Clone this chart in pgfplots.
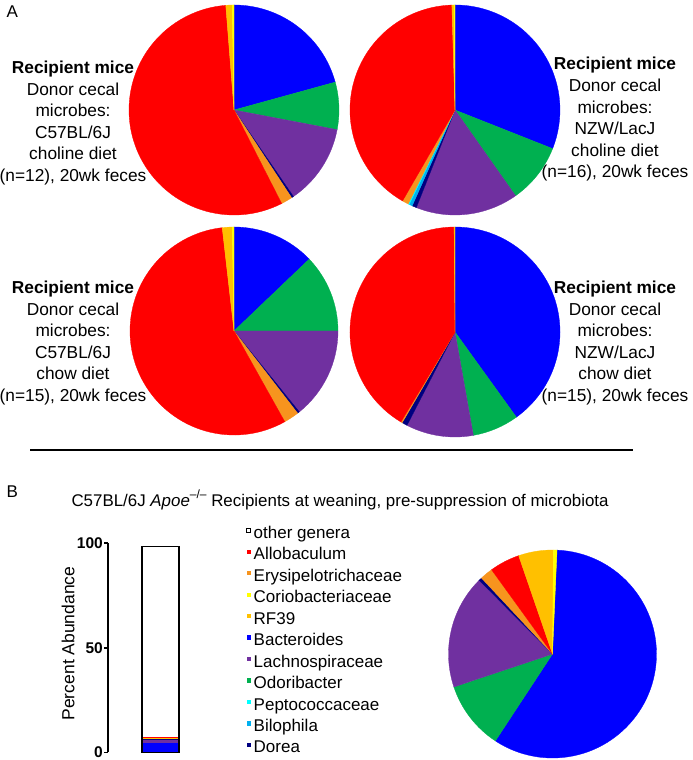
\documentclass[border=0pt]{standalone}
\usepackage{pgfplots}
\pgfplotsset{compat=1.18}
\usepackage{fontspec}
\setmainfont{Liberation Sans}

\definecolor{cAllo}{RGB}{255,0,0}
\definecolor{cEry}{RGB}{247,148,30}
\definecolor{cCorio}{RGB}{255,255,0}
\definecolor{cRF}{RGB}{255,192,0}
\definecolor{cBact}{RGB}{0,0,255}
\definecolor{cLach}{RGB}{112,48,160}
\definecolor{cOdo}{RGB}{0,176,80}
\definecolor{cPept}{RGB}{0,255,255}
\definecolor{cBilo}{RGB}{0,176,240}
\definecolor{cDorea}{RGB}{0,0,128}

% pie: centre x, centre y (canvas units = pt), radius, start offset (deg, clockwise from 12 o'clock), {percent/colour,...} clockwise
\newcommand{\piechart}[5]{%
  \pgfplotsextra{%
    \xdef\piecum{#4}%
    \foreach \v/\c in {#5} {%
      \pgfmathsetmacro\pa{90-\piecum}%
      \pgfmathsetmacro\pb{90-\piecum-3.6*\v}%
      \filldraw[fill=\c, draw=\c, line width=0.3pt] (axis cs:#1,#2) -- ++(\pa:#3pt) arc[start angle=\pa, end angle=\pb, radius=#3pt] -- cycle;
      \pgfmathsetmacro\pn{\piecum+3.6*\v}%
      \xdef\piecum{\pn}%
    }%
  }%
}

\begin{document}
\begin{tikzpicture}
\path[use as bounding box] (0,0) rectangle (693pt,760pt);

% ---------- canvas axis: pies, panel texts ----------
\begin{axis}[at={(0pt,0pt)}, anchor=south west, scale only axis,
  width=693pt, height=760pt, xmin=0, xmax=693, ymin=0, ymax=760,
  enlargelimits=false, hide axis, clip=false]
  % Pie 1: C57BL/6J choline
  \piechart{234}{650}{105}{0}{20.72/cBact, 7.28/cOdo, 12.42/cLach, 0.33/cDorea, 1.75/cEry, 56.25/cAllo, 0.97/cRF, 0.28/cCorio}
  % Pie 2: NZW/LacJ choline
  \piechart{455}{650}{105}{0}{31.0/cBact, 9.22/cOdo, 15.78/cLach, 0.69/cDorea, 0.5/cBilo, 0.17/cPept, 0.97/cEry, 41.19/cAllo, 0.33/cRF, 0.15/cCorio}
  % Pie 3: C57BL/6J chow
  \piechart{234}{429}{104}{0}{12.86/cBact, 12.14/cOdo, 14.19/cLach, 0.33/cDorea, 2.36/cEry, 56.31/cAllo, 1.53/cRF, 0.28/cCorio}
  % Pie 4: NZW/LacJ chow
  \piechart{455}{428}{105}{0}{40.06/cBact, 7.14/cOdo, 10.36/cLach, 0.83/cDorea, 0.22/cEry, 41.25/cAllo, 0.14/cRF}
  % Pie 5: recipients at weaning
  \piechart{552.5}{106}{104}{2.5}{58.56/cBact, 10.61/cOdo, 17.67/cLach, 0.5/cDorea, 2.0/cEry, 4.69/cAllo, 5.42/cRF, 0.55/cCorio}

  \node[anchor=base west, font=\fontsize{17}{17}\selectfont] at (axis cs:3,742) {A};
  \node[anchor=base west, font=\fontsize{17}{17}\selectfont] at (axis cs:3,262) {B};

  \node[align=center, font=\fontsize{17.3}{21.6}\selectfont, anchor=center] at (axis cs:73,637)
    {\textbf{Recipient mice}\\Donor cecal\\microbes:\\C57BL/6J\\choline diet\\(n=12), 20wk feces};
  \node[align=center, font=\fontsize{17.3}{21.6}\selectfont, anchor=center] at (axis cs:615,640.5)
    {\textbf{Recipient mice}\\Donor cecal\\microbes:\\NZW/LacJ\\choline diet\\(n=16), 20wk feces};
  \node[align=center, font=\fontsize{17.3}{21.6}\selectfont, anchor=center] at (axis cs:73,417)
    {\textbf{Recipient mice}\\Donor cecal\\microbes:\\C57BL/6J\\chow diet\\(n=15), 20wk feces};
  \node[align=center, font=\fontsize{17.3}{21.6}\selectfont, anchor=center] at (axis cs:615,417)
    {\textbf{Recipient mice}\\Donor cecal\\microbes:\\NZW/LacJ\\chow diet\\(n=15), 20wk feces};

  \draw[line width=1.3pt] (axis cs:30,310) -- (axis cs:633,310);

  \node[anchor=base west, font=\fontsize{16.9}{19}\selectfont] at (axis cs:68,253.5)
    {C57BL/6J \textit{Apoe}\raisebox{0.45em}{\fontsize{12}{12}\selectfont –/–} Recipients at weaning, pre-suppression of microbiota};
\end{axis}

% ---------- stacked bar ----------
\begin{axis}[at={(108pt,7.5pt)}, anchor=south west, scale only axis,
  width=80pt, height=209.5pt, xmin=0, xmax=80, ymin=0, ymax=100,
  enlargelimits=false, ybar stacked, bar width=37pt,
  axis x line=none, axis y line*=left, xtick=\empty,
  ytick={0,50,100}, yticklabels={0,50,100},
  yticklabel style={font=\fontsize{15.5}{15.5}\selectfont\bfseries, inner sep=1pt},
  tick align=outside, major tick length=4pt,
  axis line style={line width=1.8pt, black},
  tick style={line width=1.8pt, black},
  ylabel={Percent Abundance},
  every axis y label/.style={at={(axis description cs:-0.5,0.52)}, rotate=90, anchor=center, font=\fontsize{17.5}{17.5}\selectfont},
  legend image code/.code={\fill[#1, draw=none] (0pt,0.22em) rectangle (0.42em,0.64em);},
  legend cell align=left,
  legend style={at={(axis description cs:1.725,1.076)}, anchor=north west,
    draw=none, fill=none, font=\fontsize{17}{17}\selectfont,
    row sep=6.97pt, column sep=3pt, inner sep=0pt,
    nodes={inner sep=0pt, text height=11pt, text depth=3.5pt}},
  clip=false]
  \addplot[fill=cBact, draw=none, forget plot] coordinates {(52.5,4.3)};
  \addplot[fill=cLach, draw=none, forget plot] coordinates {(52.5,1.5)};
  \addplot[fill=cOdo, draw=none, forget plot] coordinates {(52.5,0.4)};
  \addplot[fill=cDorea, draw=none, forget plot] coordinates {(52.5,0.05)};
  \addplot[fill=cEry, draw=none, forget plot] coordinates {(52.5,0.2)};
  \addplot[fill=cRF, draw=none, forget plot] coordinates {(52.5,0.4)};
  \addplot[fill=cCorio, draw=none, forget plot] coordinates {(52.5,0.05)};
  \addplot[fill=cAllo, draw=none, forget plot] coordinates {(52.5,0.6)};
  \addplot[fill=white, draw=none, forget plot] coordinates {(52.5,90.8)};

  \addlegendimage{legend image code/.code={\draw[black, fill=white, line width=0.6pt] (0pt,0.22em) rectangle (0.38em,0.6em);}}
  \addlegendentry{other genera}
  \addlegendimage{fill=cAllo}
  \addlegendentry{Allobaculum}
  \addlegendimage{fill=cEry}
  \addlegendentry{Erysipelotrichaceae}
  \addlegendimage{fill=cCorio}
  \addlegendentry{Coriobacteriaceae}
  \addlegendimage{fill=cRF}
  \addlegendentry{RF39}
  \addlegendimage{fill=cBact}
  \addlegendentry{Bacteroides}
  \addlegendimage{fill=cLach}
  \addlegendentry{Lachnospiraceae}
  \addlegendimage{fill=cOdo}
  \addlegendentry{Odoribacter}
  \addlegendimage{fill=cPept}
  \addlegendentry{Peptococcaceae}
  \addlegendimage{fill=cBilo}
  \addlegendentry{Bilophila}
  \addlegendimage{fill=cDorea}
  \addlegendentry{Dorea}
\end{axis}

% ---------- bar outline ----------
\begin{axis}[at={(108pt,7.5pt)}, anchor=south west, scale only axis,
  width=80pt, height=209.5pt, xmin=0, xmax=80, ymin=0, ymax=100,
  enlargelimits=false, ybar, bar width=37pt, hide axis, clip=false]
  \addplot[fill=none, draw=black, line width=1.5pt] coordinates {(52.5,98.3)};
\end{axis}
\end{tikzpicture}
\end{document}
